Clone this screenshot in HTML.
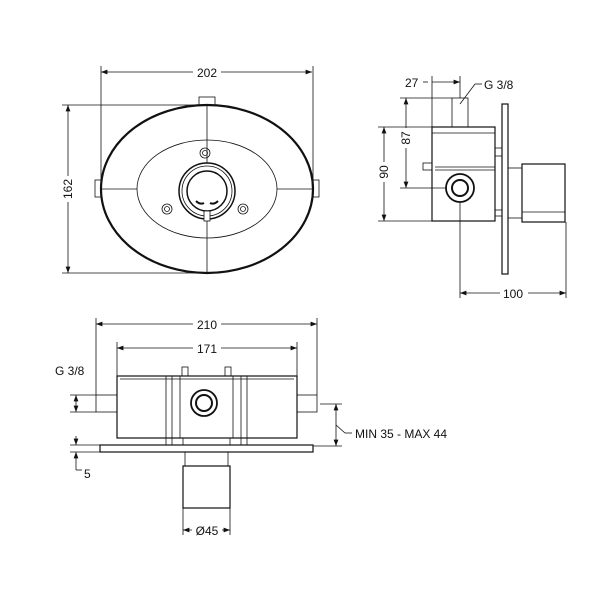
<!DOCTYPE html>
<html><head><meta charset="utf-8"><style>body{margin:0;background:#fff}svg{display:block}text{font-family:"Liberation Sans",sans-serif;font-size:12px;fill:#111}</style></head><body>
<svg width="600" height="600" viewBox="0 0 600 600" xmlns="http://www.w3.org/2000/svg">
<defs><marker id="a" markerWidth="8" markerHeight="6" refX="8" refY="3" orient="auto-start-reverse"><path d="M0,0L8,3L0,6z" fill="#111"/></marker></defs>
<g fill="none" stroke="#111" stroke-width="0.8">
<!-- top view -->
<line x1="101" y1="72" x2="312" y2="72" marker-start="url(#a)" marker-end="url(#a)"/>
<line x1="101" y1="66" x2="101" y2="185"/><line x1="313" y1="66" x2="313" y2="185"/>
<line x1="68" y1="105" x2="68" y2="273" marker-start="url(#a)" marker-end="url(#a)"/>
<line x1="62" y1="105" x2="207" y2="105"/><line x1="62" y1="273" x2="207" y2="273"/>
<rect x="199" y="97" width="16" height="8" fill="#fff"/>
<rect x="95" y="180" width="6" height="17" fill="#fff"/><rect x="313" y="180" width="6" height="17" fill="#fff"/>
<ellipse cx="207" cy="189" rx="106" ry="84" stroke-width="2.2" fill="#fff"/>
<ellipse cx="207" cy="189" rx="70" ry="49"/>
<line x1="207" y1="105" x2="207" y2="273"/><line x1="101" y1="189" x2="137" y2="189"/><line x1="277" y1="189" x2="313" y2="189"/>
<circle cx="207" cy="191" r="28" fill="#fff" stroke-width="1.5"/><circle cx="207" cy="191" r="25"/><circle cx="207" cy="191" r="20" stroke-width="1.5" fill="#fff"/>
<rect x="204" y="211" width="6" height="10" fill="#fff"/>
<path d="M196 201q4 4 8 2M210 203q4 2 8-2" stroke-width="2"/>
<circle cx="205" cy="153" r="5"/><circle cx="205" cy="153" r="2.5"/>
<circle cx="167" cy="209" r="5"/><circle cx="167" cy="209" r="2.5"/>
<circle cx="243" cy="209" r="5"/><circle cx="243" cy="209" r="2.5"/>
<!-- side view -->
<line x1="432" y1="82" x2="460" y2="82" marker-end="url(#a)"/><line x1="432" y1="76" x2="432" y2="127"/><line x1="460" y1="76" x2="460" y2="98"/>
<line x1="423" y1="82" x2="428" y2="82"/>
<line x1="475" y1="84" x2="482" y2="84"/><line x1="475" y1="84" x2="460" y2="104"/>
<line x1="406" y1="98" x2="406" y2="188" marker-start="url(#a)" marker-end="url(#a)"/>
<line x1="400" y1="98" x2="452" y2="98"/><line x1="400" y1="188" x2="447" y2="188"/>
<line x1="384" y1="127" x2="384" y2="221" marker-start="url(#a)" marker-end="url(#a)"/>
<line x1="378" y1="127" x2="432" y2="127"/><line x1="378" y1="221" x2="432" y2="221"/>
<rect x="452" y="98" width="16" height="29"/>
<rect x="432" y="127" width="63" height="94" stroke-width="1.2"/>
<line x1="432" y1="133" x2="495" y2="133"/><line x1="435" y1="167" x2="495" y2="167"/><line x1="435" y1="170" x2="495" y2="170"/>
<rect x="423" y="163" width="9" height="7"/>
<rect x="495" y="148" width="7" height="8"/><rect x="495" y="210" width="7" height="6"/>
<rect x="502" y="104" width="6" height="170" stroke-width="1.2"/>
<rect x="508" y="168" width="14" height="50"/>
<rect x="522" y="164" width="43" height="58" stroke-width="1.2"/><line x1="522" y1="212" x2="565" y2="212"/>
<circle cx="460" cy="188" r="14" stroke-width="1.8"/><circle cx="460" cy="188" r="8" stroke-width="2"/>
<line x1="460" y1="202" x2="460" y2="298"/><line x1="566" y1="222" x2="566" y2="298"/>
<line x1="460" y1="293" x2="566" y2="293" marker-start="url(#a)" marker-end="url(#a)"/>
<!-- bottom view -->
<line x1="96" y1="324" x2="317" y2="324" marker-start="url(#a)" marker-end="url(#a)"/>
<line x1="96" y1="318" x2="96" y2="395"/><line x1="317" y1="318" x2="317" y2="395"/>
<line x1="117" y1="348" x2="297" y2="348" marker-start="url(#a)" marker-end="url(#a)"/>
<line x1="117" y1="342" x2="117" y2="376"/><line x1="297" y1="342" x2="297" y2="376"/>
<rect x="117" y="376" width="180" height="62" stroke-width="1.2"/>
<line x1="120" y1="379" x2="294" y2="379"/>
<rect x="166" y="376" width="6" height="69"/><rect x="241" y="376" width="6" height="69"/>
<line x1="180" y1="376" x2="180" y2="438"/><line x1="233" y1="376" x2="233" y2="438"/>
<rect x="182" y="367" width="6" height="9"/><rect x="225" y="367" width="6" height="9"/>
<rect x="96" y="395" width="21" height="17"/><rect x="297" y="395" width="20" height="17"/>
<circle cx="204" cy="403" r="13" stroke-width="1.8"/><circle cx="204" cy="403" r="8" stroke-width="2"/>
<rect x="183" y="438" width="47" height="7"/>
<rect x="100" y="445" width="213" height="7" stroke-width="1.2"/>
<rect x="185" y="452" width="43" height="14"/>
<rect x="183" y="466" width="47" height="42" stroke-width="1.2"/>
<line x1="76" y1="395" x2="76" y2="412" marker-start="url(#a)" marker-end="url(#a)"/>
<line x1="70" y1="395" x2="96" y2="395"/><line x1="70" y1="412" x2="96" y2="412"/>
<line x1="76" y1="436" x2="76" y2="445" marker-end="url(#a)"/><line x1="76" y1="452" x2="76" y2="470" marker-start="url(#a)"/><line x1="76" y1="470" x2="82" y2="470"/>
<line x1="70" y1="445" x2="100" y2="445"/><line x1="70" y1="452" x2="100" y2="452"/>
<line x1="336" y1="404" x2="336" y2="446" marker-start="url(#a)" marker-end="url(#a)"/>
<line x1="320" y1="404" x2="342" y2="404"/><line x1="313" y1="446" x2="342" y2="446"/>
<line x1="336" y1="425" x2="345" y2="433"/><line x1="345" y1="433" x2="352" y2="433"/>
<line x1="183" y1="508" x2="183" y2="535"/><line x1="230" y1="508" x2="230" y2="535"/>
<line x1="183" y1="530" x2="230" y2="530" marker-start="url(#a)" marker-end="url(#a)"/>
</g>
<g>
<rect x="193" y="64" width="28" height="14" fill="#fff"/><text x="207" y="77" text-anchor="middle">202</text>
<rect x="60" y="176" width="16" height="26" fill="#fff"/><text transform="translate(72,189) rotate(-90)" text-anchor="middle">162</text>
<text x="405" y="87">27</text><text x="484" y="89">G 3/8</text>
<rect x="399" y="128" width="14" height="20" fill="#fff"/><text transform="translate(410,138) rotate(-90)" text-anchor="middle">87</text>
<rect x="377" y="162" width="14" height="20" fill="#fff"/><text transform="translate(388,172) rotate(-90)" text-anchor="middle">90</text>
<rect x="500" y="286" width="28" height="14" fill="#fff"/><text x="513" y="298" text-anchor="middle">100</text>
<rect x="193" y="317" width="28" height="14" fill="#fff"/><text x="207" y="329" text-anchor="middle">210</text>
<rect x="193" y="341" width="28" height="14" fill="#fff"/><text x="207" y="353" text-anchor="middle">171</text>
<text x="55" y="375">G 3/8</text><text x="84" y="478">5</text>
<text x="355" y="438">MIN 35 - MAX 44</text>
<rect x="192" y="523" width="30" height="14" fill="#fff"/><text x="207" y="535" text-anchor="middle">Ø45</text>
</g>
</svg>
</body></html>
